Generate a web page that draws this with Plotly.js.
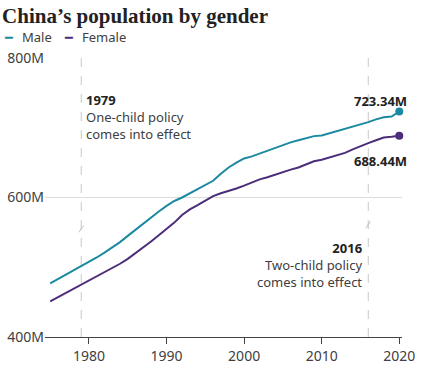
<!DOCTYPE html>
<html>
<head>
<meta charset="utf-8">
<script src="https://cdn.plot.ly/plotly-3.0.1.min.js"></script>
<style>html,body{margin:0;padding:0;background:#fff;}#chart{width:423px;height:366px;}</style>
</head>
<body>
<div id="chart"></div>
<script>
const years = [1975,1976,1977,1978,1979,1980,1981,1982,1983,1984,1985,1986,1987,1988,1989,
  1990,1991,1992,1993,1994,1995,1996,1997,1998,1999,2000,2001,2002,2003,2004,2005,2006,2007,
  2008,2009,2010,2011,2012,2013,2014,2015,2016,2017,2018,2019,2020];
const male = [477,483,489,495,501,507,514,521,528,536,545,554,563,572,580,
  588,595,600,606,613,619,624,634,643,650,656,659,663,668,672,676,679,682,
  685,688,689,692,695,699,702,705,708,712,715,716,723.34];
const female = [451,457,463,469,475,481,486,492,498,505,512,520,529,537,546,
  555,564,575,583,589,596,602,606,609,613,617,622,626,629,633,637,640,643,
  647,652,654,657,661,664,669,674,678,682,686,687,688.44];
const seriesNames = ["Male","Female"];
const colors = ["#1b8aa0","#4b2d7a"];
const xTicks = [1980,1990,2000,2010,2020];
const yTicks = [400,600,800];
const events = [
  {year:1979, label:"1979", text:"One-child policy<br>comes into effect"},
  {year:2016, label:"2016", text:"Two-child policy<br>comes into effect"}
];
const font = "'Noto Sans', sans-serif";
const last = years.length - 1;

const ml = 45, plotW = 423 - 45 - 21;
const px = p => (p - ml) / plotW;   // pixel -> paper x, for header legend

const traces = [
  {x: years, y: male, type:'scatter', mode:'lines', line:{color:colors[0], width:2}, name:seriesNames[0], hoverinfo:'skip'},
  {x: years, y: female, type:'scatter', mode:'lines', line:{color:colors[1], width:2}, name:seriesNames[1], hoverinfo:'skip'},
  {x: [years[last]], y: [male[last]], type:'scatter', mode:'markers', marker:{color:colors[0], size:8}, hoverinfo:'skip', cliponaxis:false},
  {x: [years[last]], y: [female[last]], type:'scatter', mode:'markers', marker:{color:colors[1], size:8}, hoverinfo:'skip', cliponaxis:false}
];

const shapes = events.map(e => ({
  type:'line', xref:'x', yref:'paper', x0:e.year, x1:e.year, y0:0, y1:1,
  line:{color:'#c8c8c8', width:1, dash:'dash'}, layer:'below'
}));
// small break marks on the event lines
const breaks = [[1979,555],[2016,561]];
breaks.forEach(b => {
  shapes.push({type:'line', xref:'x', yref:'y', x0:b[0]-0.3, x1:b[0]+0.15, y0:b[1]-5, y1:b[1]+3, line:{color:'#c8c8c8', width:1}});
  shapes.push({type:'line', xref:'x', yref:'y', x0:b[0]-0.15, x1:b[0]+0.3, y0:b[1]-3, y1:b[1]+5, line:{color:'#c8c8c8', width:1}});
});

const legendY = 1.075;
const annotations = [
  {xref:'paper', yref:'paper', x:px(2), y:legendY, xanchor:'left', yanchor:'middle', showarrow:false,
   text:'━', font:{family:'DejaVu Sans', size:13, color:colors[0]}},
  {xref:'paper', yref:'paper', x:px(20), y:legendY, xanchor:'left', yanchor:'middle', showarrow:false,
   text:seriesNames[0], font:{family:font, size:13, color:'#404040'}},
  {xref:'paper', yref:'paper', x:px(62), y:legendY, xanchor:'left', yanchor:'middle', showarrow:false,
   text:'━', font:{family:'DejaVu Sans', size:13, color:colors[1]}},
  {xref:'paper', yref:'paper', x:px(80), y:legendY, xanchor:'left', yanchor:'middle', showarrow:false,
   text:seriesNames[1], font:{family:font, size:13, color:'#404040'}},
  {xref:'x', yref:'y', x:events[0].year+0.4, y:755, xanchor:'left', yanchor:'top', showarrow:false, align:'left',
   text:`<b style="color:#222">${events[0].label}</b><br>${events[0].text}`, font:{family:font, size:13, color:'#404040'}},
  {xref:'x', yref:'y', x:events[1].year-0.6, y:544, xanchor:'right', yanchor:'top', showarrow:false, align:'right',
   text:`<b style="color:#222">${events[1].label}</b><br>${events[1].text}`, font:{family:font, size:13, color:'#404040'}},
  {xref:'x', yref:'y', x:years[last], xshift:10, y:male[last]+15, xanchor:'right', yanchor:'middle', showarrow:false,
   text:`<b>${male[last].toFixed(2)}M</b>`, font:{family:font, size:13, color:'#222'}},
  {xref:'x', yref:'y', x:years[last], xshift:10, y:female[last]-36, xanchor:'right', yanchor:'middle', showarrow:false,
   text:`<b>${female[last].toFixed(2)}M</b>`, font:{family:font, size:13, color:'#222'}}
];

const layout = {
  width:423, height:366,
  margin:{l:45, r:21, t:58, b:29},
  paper_bgcolor:'#fff', plot_bgcolor:'#fff',
  showlegend:false,
  title:{text:"<b>China’s population by gender</b>", x:0.005, xanchor:'left', xref:'container', y:0.978, yref:'container', yanchor:'top',
         font:{family:"'Liberation Serif', serif", size:21, color:'#222'}},
  xaxis:{range:[1974.33, 2020.35], tickvals:xTicks, ticktext:xTicks.map(String),
         showgrid:false, zeroline:false, showline:true, linecolor:'#444', linewidth:1,
         ticks:'outside', ticklen:6, tickcolor:'#444', tickwidth:1,
         tickfont:{family:font, size:14, color:'#404040'}, fixedrange:true},
  yaxis:{range:[400,800], tickvals:yTicks, ticktext:yTicks.map(v => v + 'M'),
         showgrid:true, gridcolor:'#dcdcdc', zeroline:false, showline:false, ticks:'',
         tickfont:{family:font, size:14, color:'#404040'}, fixedrange:true},
  shapes: shapes,
  annotations: annotations,
  font:{family:font}
};

Plotly.newPlot('chart', traces, layout, {displayModeBar:false, staticPlot:true});
</script>
</body>
</html>
